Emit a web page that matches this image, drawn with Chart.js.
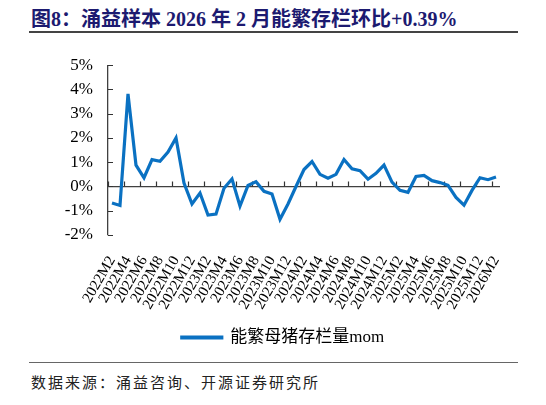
<!DOCTYPE html>
<html>
<head>
<meta charset="utf-8">
<script src="https://cdn.jsdelivr.net/npm/chart.js@4.4.1/dist/chart.umd.min.js"></script>
<style>
    body { margin: 0; width: 546px; height: 405px; background: #fff; position: relative; overflow: hidden; }
    .title { position: absolute; left: 31px; top: 3px; font: bold 20px "Liberation Serif", "Noto Sans CJK SC", serif; color: #1c1a70; white-space: nowrap; }
    .rule { position: absolute; left: 29px; width: 489px; background: #444; }
    .source { position: absolute; left: 31px; top: 371px; font: 15px "Liberation Serif", "Noto Sans CJK SC", serif; color: #222; letter-spacing: 2px; }
    #wrap { position: absolute; left: 0; top: 40px; width: 546px; height: 316px; }
</style>
</head>
<body>
<div class="title">图8：涌益样本 2026 年 2 月能繁存栏环比+0.39%</div>
<div class="rule" style="top: 31px; height: 1.5px;"></div>
<div id="wrap"><canvas id="chart" width="546" height="316"></canvas></div>
<div class="rule" style="top: 362px; height: 1px; background: #666;"></div>
<div class="source">数据来源：涌益咨询、开源证券研究所</div>

<script>
'use strict';

// months 2022M2 .. 2026M2
const months = [];
for (let y = 2022; y <= 2026; y++) {
    for (let m = 1; m <= 12; m++) {
        if ((y === 2022 && m < 2) || (y === 2026 && m > 2)) continue;
        months.push(y + 'M' + m);
    }
}

// 能繁母猪存栏量 环比 (%)
const sowMom = [
    -0.68, -0.78, 3.82, 0.88, 0.36, 1.11, 1.04, 1.42, 2.00, 0.14, -0.72,
    -0.27, -1.18, -1.14, -0.07, 0.31, -0.81, 0.04, 0.20, -0.20, -0.31, -1.35,
    -0.72, 0.00, 0.70, 1.03, 0.50, 0.34, 0.50, 1.11, 0.73, 0.65, 0.30,
    0.54, 0.88, 0.18, -0.16, -0.24, 0.41, 0.46, 0.24, 0.16, 0.05, -0.45,
    -0.77, -0.16, 0.36, 0.28, 0.39
];

const yTicks = [-2, -1, 0, 1, 2, 3, 4, 5];
const serif = '"Liberation Serif", "Noto Sans CJK SC", serif';

// small tick marks drawn inside the plot, Excel style
const insideTicks = {
    id: 'insideTicks',
    beforeDatasetsDraw: function (chart) {
        const ctx = chart.ctx;
        const xs = chart.scales.x;
        const ys = chart.scales.y;
        const y0 = ys.getPixelForValue(0);
        const step = (xs.right - xs.left) / months.length;

        ctx.save();
        ctx.strokeStyle = '#333';
        ctx.lineWidth = 1.2;
        ctx.beginPath();
        for (let i = 0; i < months.length; i += 2) {
            const x = Math.round(xs.left + i * step) + 0.5;
            ctx.moveTo(x, y0);
            ctx.lineTo(x, y0 - 5);
        }
        yTicks.forEach(function (v) {
            const y = Math.round(ys.getPixelForValue(v)) + 0.5;
            ctx.moveTo(ys.right, y);
            ctx.lineTo(ys.right + 5, y);
        });
        ctx.stroke();
        ctx.restore();
    }
};

new Chart(document.getElementById('chart'), {
    type: 'line',
    data: {
        labels: months,
        datasets: [{
            label: '能繁母猪存栏量mom',
            data: sowMom,
            borderColor: '#0a71c2',
            backgroundColor: '#0a71c2',
            borderWidth: 3.2,
            pointRadius: 0,
            tension: 0
        }]
    },
    options: {
        responsive: false,
        animation: false,
        layout: { padding: { top: 23, left: 20, right: 0, bottom: 0 } },
        plugins: {
            tooltip: { enabled: false },
            legend: {
                position: 'bottom',
                labels: {
                    boxWidth: 40,
                    boxHeight: 1,
                    padding: 10,
                    color: '#000',
                    font: { family: serif, size: 17 }
                }
            }
        },
        scales: {
            x: {
                offset: true,
                grid: { display: false },
                border: { display: false },
                ticks: {
                    autoSkip: false,
                    maxRotation: 60,
                    minRotation: 60,
                    padding: 10,
                    color: '#000',
                    font: { family: serif, size: 15 },
                    callback: function (value, index) {
                        return index % 2 === 0 ? months[index] : null;
                    }
                },
                afterFit: function (scale) { scale.height = 84; }
            },
            y: {
                min: -2,
                max: 5,
                afterBuildTicks: function (scale) {
                    scale.ticks = yTicks.map(v => ({ value: v }));
                },
                grid: {
                    drawTicks: false,
                    color: ctx => ctx.tick && ctx.tick.value === 0 ? '#404040' : 'rgba(0,0,0,0)',
                    lineWidth: 1.3
                },
                border: { color: '#404040', width: 1.3 },
                ticks: {
                    padding: 15,
                    color: '#000',
                    font: { family: serif, size: 17 },
                    callback: v => v + '%'
                },
                afterFit: function (scale) { scale.width = 88; }
            },
            yR: {
                position: 'right',
                display: true,
                grid: { display: false },
                border: { display: false },
                ticks: { display: false },
                afterFit: function (scale) { scale.width = 46; }
            }
        }
    },
    plugins: [insideTicks]
});
</script>
</body>
</html>
